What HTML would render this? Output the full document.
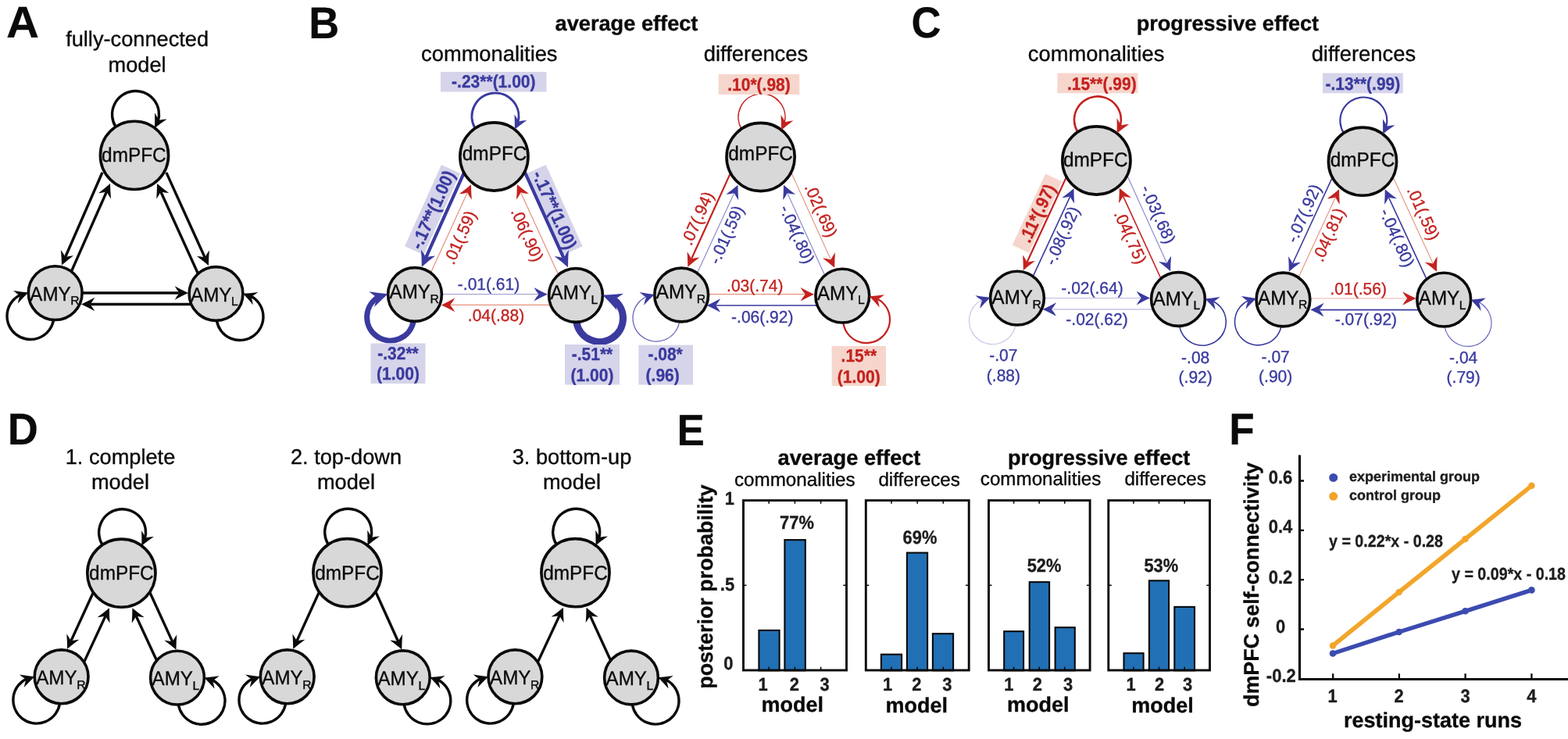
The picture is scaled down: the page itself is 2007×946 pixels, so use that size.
<!DOCTYPE html>
<html><head><meta charset="utf-8"><title>Figure</title>
<style>
html,body{margin:0;padding:0;background:#fff;}
svg{display:block;font-family:'Liberation Sans', sans-serif;}
text{stroke-width:.35px;stroke-linejoin:round;text-rendering:geometricPrecision;}
</style></head>
<body>
<svg width="2007" height="946" viewBox="0 0 2007 946">
<rect width="2007" height="946" fill="#fff"/>
<text font-size="100" font-weight="bold" fill="#0a0a0a" transform="matrix(0.5821 0 0 0.5669 7.99 47.90)" stroke="#0a0a0a">A</text>
<text x="175.6" y="58.5" font-size="27.2" text-anchor="middle" fill="#0a0a0a" stroke="#0a0a0a">fully-connected</text>
<text x="175.6" y="91.5" font-size="27.2" text-anchor="middle" fill="#0a0a0a" stroke="#0a0a0a">model</text>
<path d="M148.1 162.4A30 30 0 1 1 202.2 155.4" fill="none" stroke="#0a0a0a" stroke-width="3.4"/>
<path d="M68.6 409.4A30 30 0 1 1 27.1 377" fill="none" stroke="#0a0a0a" stroke-width="3.4"/>
<path d="M277.4 410.4A30 30 0 1 0 320 378.5" fill="none" stroke="#0a0a0a" stroke-width="3.4"/>
<line x1="131" y1="220.8" x2="83.5" y2="329.2" stroke="#0a0a0a" stroke-width="3.4"/>
<path d="M79 339.5Q86.1 333.2 94 327.2Q87.8 327.8 83.5 329.2Q81.7 325.1 77.9 320.1Q78.8 330 79 339.5Z" fill="#0a0a0a"/>
<line x1="88" y1="355.1" x2="136.5" y2="245.3" stroke="#0a0a0a" stroke-width="3.4"/>
<path d="M141 235Q133.9 241.3 126 247.3Q132.2 246.7 136.5 245.3Q138.3 249.4 142.1 254.4Q141.1 244.5 141 235Z" fill="#0a0a0a"/>
<line x1="256.1" y1="356.1" x2="205.7" y2="245.2" stroke="#0a0a0a" stroke-width="3.4"/>
<path d="M201 235Q201 244.5 200.2 254.4Q203.9 249.4 205.7 245.2Q210 246.6 216.2 247.1Q208.2 241.2 201 235Z" fill="#0a0a0a"/>
<line x1="212.9" y1="220.9" x2="262.3" y2="329.8" stroke="#0a0a0a" stroke-width="3.4"/>
<path d="M267 340Q267 330.5 267.9 320.6Q264.1 325.6 262.3 329.8Q258 328.4 251.8 327.9Q259.8 333.8 267 340Z" fill="#0a0a0a"/>
<line x1="97" y1="375" x2="229.8" y2="375" stroke="#0a0a0a" stroke-width="3.4"/>
<path d="M241 375Q232.3 371 223.7 366.2Q226.7 371.7 229.8 375Q226.7 378.3 223.7 383.8Q232.3 379 241 375Z" fill="#0a0a0a"/>
<line x1="251" y1="389.5" x2="115.2" y2="389.5" stroke="#0a0a0a" stroke-width="3.4"/>
<path d="M104 389.5Q112.7 393.5 121.3 398.3Q118.3 392.8 115.2 389.5Q118.3 386.2 121.3 380.7Q112.7 385.5 104 389.5Z" fill="#0a0a0a"/>
<circle cx="172" cy="198.9" r="43.6" fill="#d8d8d8" stroke="#0a0a0a" stroke-width="3.6"/>
<text x="171.4" y="207.2" font-size="25.5" text-anchor="middle" fill="#0a0a0a" textLength="82.6" lengthAdjust="spacingAndGlyphs" stroke="#0a0a0a">dmPFC</text>
<circle cx="70.7" cy="375.1" r="34.4" fill="#d8d8d8" stroke="#0a0a0a" stroke-width="3.6"/>
<text x="38.3" y="384.6" font-size="25.5" fill="#0a0a0a" textLength="52.4" lengthAdjust="spacingAndGlyphs" stroke="#0a0a0a">AMY</text>
<text x="90.3" y="390.3" font-size="15.7" fill="#0a0a0a" stroke="#0a0a0a">R</text>
<circle cx="276.5" cy="376" r="34.4" fill="#d8d8d8" stroke="#0a0a0a" stroke-width="3.6"/>
<text x="244.1" y="385.5" font-size="25.5" fill="#0a0a0a" textLength="52.4" lengthAdjust="spacingAndGlyphs" stroke="#0a0a0a">AMY</text>
<text x="296.1" y="391.2" font-size="15.7" fill="#0a0a0a" stroke="#0a0a0a">L</text>
<text font-size="100" font-weight="bold" fill="#0a0a0a" transform="matrix(0.5423 0 0 0.5712 9.72 568.70)" stroke="#0a0a0a">D</text>
<text x="154" y="594.3" font-size="27.2" text-anchor="middle" fill="#0a0a0a" stroke="#0a0a0a">1. complete</text>
<text x="154" y="626.4" font-size="27.2" text-anchor="middle" fill="#0a0a0a" stroke="#0a0a0a">model</text>
<path d="M131.1 697.5A30 30 0 1 1 185.4 690.1" fill="none" stroke="#0a0a0a" stroke-width="3.4"/>
<path d="M76.5 900.6A30 30 0 1 1 35 868.5" fill="none" stroke="#0a0a0a" stroke-width="3.4"/>
<path d="M228.4 902A30 30 0 1 0 270.5 869.9" fill="none" stroke="#0a0a0a" stroke-width="3.4"/>
<line x1="121.6" y1="753.6" x2="90.8" y2="820.6" stroke="#0a0a0a" stroke-width="3.4"/>
<path d="M86.1 830.8Q93.3 824.6 101.3 818.8Q95.1 819.2 90.8 820.6Q89 816.4 85.3 811.4Q86.1 821.3 86.1 830.8Z" fill="#0a0a0a"/>
<line x1="189.2" y1="752.6" x2="220.8" y2="821.6" stroke="#0a0a0a" stroke-width="3.4"/>
<path d="M225.5 831.8Q225.5 822.3 226.3 812.4Q222.6 817.4 220.8 821.6Q216.5 820.2 210.3 819.7Q218.3 825.6 225.5 831.8Z" fill="#0a0a0a"/>
<line x1="104.4" y1="854.4" x2="135.1" y2="788.4" stroke="#0a0a0a" stroke-width="3.4"/>
<path d="M139.9 778.2Q132.7 784.4 124.6 790.2Q130.8 789.7 135.1 788.4Q136.9 792.5 140.6 797.6Q139.8 787.7 139.9 778.2Z" fill="#0a0a0a"/>
<line x1="203.7" y1="852.2" x2="174.1" y2="788.4" stroke="#0a0a0a" stroke-width="3.4"/>
<path d="M169.4 778.2Q169.4 787.7 168.7 797.6Q172.4 792.6 174.1 788.4Q178.4 789.7 184.7 790.2Q176.6 784.4 169.4 778.2Z" fill="#0a0a0a"/>
<circle cx="155.4" cy="733.7" r="43.6" fill="#d8d8d8" stroke="#0a0a0a" stroke-width="3.6"/>
<text x="155.4" y="742" font-size="25.5" text-anchor="middle" fill="#0a0a0a" textLength="82.6" lengthAdjust="spacingAndGlyphs" stroke="#0a0a0a">dmPFC</text>
<circle cx="78.6" cy="866.3" r="34.4" fill="#d8d8d8" stroke="#0a0a0a" stroke-width="3.6"/>
<text x="46.2" y="875.8" font-size="25.5" fill="#0a0a0a" textLength="52.4" lengthAdjust="spacingAndGlyphs" stroke="#0a0a0a">AMY</text>
<text x="98.2" y="881.5" font-size="15.7" fill="#0a0a0a" stroke="#0a0a0a">R</text>
<circle cx="227" cy="867.6" r="34.4" fill="#d8d8d8" stroke="#0a0a0a" stroke-width="3.6"/>
<text x="194.6" y="877.1" font-size="25.5" fill="#0a0a0a" textLength="52.4" lengthAdjust="spacingAndGlyphs" stroke="#0a0a0a">AMY</text>
<text x="246.6" y="882.8" font-size="15.7" fill="#0a0a0a" stroke="#0a0a0a">L</text>
<text x="443" y="594.3" font-size="27.2" text-anchor="middle" fill="#0a0a0a" stroke="#0a0a0a">2. top-down</text>
<text x="443" y="626.4" font-size="27.2" text-anchor="middle" fill="#0a0a0a" stroke="#0a0a0a">model</text>
<path d="M420.2 697A30 30 0 1 1 474.5 689.6" fill="none" stroke="#0a0a0a" stroke-width="3.4"/>
<path d="M365.6 900.6A30 30 0 1 1 324.1 868.5" fill="none" stroke="#0a0a0a" stroke-width="3.4"/>
<path d="M517.2 901.7A30 30 0 1 0 559.3 869.6" fill="none" stroke="#0a0a0a" stroke-width="3.4"/>
<line x1="410.7" y1="753.1" x2="379.9" y2="820.6" stroke="#0a0a0a" stroke-width="3.4"/>
<path d="M375.2 830.8Q382.4 824.6 390.4 818.7Q384.2 819.2 379.9 820.6Q378.1 816.4 374.4 811.4Q375.2 821.3 375.2 830.8Z" fill="#0a0a0a"/>
<line x1="478.4" y1="752.1" x2="509.7" y2="821.3" stroke="#0a0a0a" stroke-width="3.4"/>
<path d="M514.3 831.5Q514.3 822 515.2 812.1Q511.5 817.1 509.7 821.3Q505.4 819.9 499.2 819.4Q507.1 825.3 514.3 831.5Z" fill="#0a0a0a"/>
<circle cx="444.5" cy="733.2" r="43.6" fill="#d8d8d8" stroke="#0a0a0a" stroke-width="3.6"/>
<text x="444.5" y="741.5" font-size="25.5" text-anchor="middle" fill="#0a0a0a" textLength="82.6" lengthAdjust="spacingAndGlyphs" stroke="#0a0a0a">dmPFC</text>
<circle cx="367.7" cy="866.3" r="34.4" fill="#d8d8d8" stroke="#0a0a0a" stroke-width="3.6"/>
<text x="335.3" y="875.8" font-size="25.5" fill="#0a0a0a" textLength="52.4" lengthAdjust="spacingAndGlyphs" stroke="#0a0a0a">AMY</text>
<text x="387.3" y="881.5" font-size="15.7" fill="#0a0a0a" stroke="#0a0a0a">R</text>
<circle cx="515.8" cy="867.3" r="34.4" fill="#d8d8d8" stroke="#0a0a0a" stroke-width="3.6"/>
<text x="483.4" y="876.8" font-size="25.5" fill="#0a0a0a" textLength="52.4" lengthAdjust="spacingAndGlyphs" stroke="#0a0a0a">AMY</text>
<text x="535.4" y="882.5" font-size="15.7" fill="#0a0a0a" stroke="#0a0a0a">L</text>
<text x="732" y="594.3" font-size="27.2" text-anchor="middle" fill="#0a0a0a" stroke="#0a0a0a">3. bottom-up</text>
<text x="732" y="626.4" font-size="27.2" text-anchor="middle" fill="#0a0a0a" stroke="#0a0a0a">model</text>
<path d="M712.2 697A30 30 0 1 1 766.5 689.6" fill="none" stroke="#0a0a0a" stroke-width="3.4"/>
<path d="M657.3 900.6A30 30 0 1 1 615.8 868.5" fill="none" stroke="#0a0a0a" stroke-width="3.4"/>
<path d="M809.4 901.9A30 30 0 1 0 851.5 869.8" fill="none" stroke="#0a0a0a" stroke-width="3.4"/>
<line x1="685.2" y1="854.4" x2="716.2" y2="787.9" stroke="#0a0a0a" stroke-width="3.4"/>
<path d="M721 777.7Q713.7 783.9 705.7 789.6Q711.9 789.2 716.2 787.9Q718 792 721.6 797.1Q720.9 787.2 721 777.7Z" fill="#0a0a0a"/>
<line x1="784.7" y1="852.1" x2="755.2" y2="787.9" stroke="#0a0a0a" stroke-width="3.4"/>
<path d="M750.5 777.7Q750.5 787.2 749.7 797.1Q753.4 792.1 755.2 787.9Q759.5 789.3 765.7 789.7Q757.7 783.9 750.5 777.7Z" fill="#0a0a0a"/>
<circle cx="736.5" cy="733.2" r="43.6" fill="#d8d8d8" stroke="#0a0a0a" stroke-width="3.6"/>
<text x="736.5" y="741.5" font-size="25.5" text-anchor="middle" fill="#0a0a0a" textLength="82.6" lengthAdjust="spacingAndGlyphs" stroke="#0a0a0a">dmPFC</text>
<circle cx="659.4" cy="866.3" r="34.4" fill="#d8d8d8" stroke="#0a0a0a" stroke-width="3.6"/>
<text x="627" y="875.8" font-size="25.5" fill="#0a0a0a" textLength="52.4" lengthAdjust="spacingAndGlyphs" stroke="#0a0a0a">AMY</text>
<text x="679" y="881.5" font-size="15.7" fill="#0a0a0a" stroke="#0a0a0a">R</text>
<circle cx="808" cy="867.5" r="34.4" fill="#d8d8d8" stroke="#0a0a0a" stroke-width="3.6"/>
<text x="775.6" y="877" font-size="25.5" fill="#0a0a0a" textLength="52.4" lengthAdjust="spacingAndGlyphs" stroke="#0a0a0a">AMY</text>
<text x="827.6" y="882.7" font-size="15.7" fill="#0a0a0a" stroke="#0a0a0a">L</text>
<text font-size="100" font-weight="bold" fill="#0a0a0a" transform="matrix(0.5410 0 0 0.5698 395.13 49.00)" stroke="#0a0a0a">B</text>
<text font-size="100" font-weight="bold" fill="#0a0a0a" transform="matrix(0.5261 0 0 0.5572 1166.49 47.64)" stroke="#0a0a0a">C</text>
<text x="802" y="39.2" font-size="27.2" font-weight="bold" text-anchor="middle" fill="#0a0a0a" stroke="#0a0a0a">average effect</text>
<text x="1571.4" y="39.2" font-size="27.1" font-weight="bold" text-anchor="middle" fill="#0a0a0a" stroke="#0a0a0a">progressive effect</text>
<text x="626.3" y="78.1" font-size="27.3" text-anchor="middle" fill="#0a0a0a" stroke="#0a0a0a">commonalities</text>
<text x="967.5" y="78" font-size="27.4" text-anchor="middle" fill="#0a0a0a" stroke="#0a0a0a">differences</text>
<text x="1403.1" y="78.1" font-size="27.3" text-anchor="middle" fill="#0a0a0a" stroke="#0a0a0a">commonalities</text>
<text x="1745.4" y="78" font-size="27.4" text-anchor="middle" fill="#0a0a0a" stroke="#0a0a0a">differences</text>
<path d="M608.2 164.3A30 30 0 1 1 662.8 157.2" fill="none" stroke="#3a3a9f" stroke-width="3.0"/>
<path d="M529.2 411.4A30 30 0 1 1 485.1 379.8" fill="none" stroke="#3a3a9f" stroke-width="7"/>
<path d="M737.9 412.4A30 30 0 1 0 783.7 382.2" fill="none" stroke="#3a3a9f" stroke-width="9"/>
<rect x="564" y="92" width="135.5" height="25.5" fill="#d5d4ea"/>
<text x="631.8" y="112" font-size="22.8" font-weight="bold" text-anchor="middle" fill="#3a3a9f" textLength="107.4" lengthAdjust="spacingAndGlyphs" stroke="#3a3a9f">-.23**(1.00)</text>
<rect x="474.5" y="439.5" width="70" height="51.5" fill="#d5d4ea"/>
<text x="509.5" y="460" font-size="22.8" font-weight="bold" text-anchor="middle" fill="#3a3a9f" textLength="52.5" lengthAdjust="spacingAndGlyphs" stroke="#3a3a9f">-.32**</text>
<text x="509.5" y="485.5" font-size="22.8" font-weight="bold" text-anchor="middle" fill="#3a3a9f" textLength="54.9" lengthAdjust="spacingAndGlyphs" stroke="#3a3a9f">(1.00)</text>
<rect x="723" y="441" width="70" height="51.5" fill="#d5d4ea"/>
<text x="758" y="461" font-size="22.8" font-weight="bold" text-anchor="middle" fill="#3a3a9f" textLength="52.5" lengthAdjust="spacingAndGlyphs" stroke="#3a3a9f">-.51**</text>
<text x="758" y="487.5" font-size="22.8" font-weight="bold" text-anchor="middle" fill="#3a3a9f" textLength="54.9" lengthAdjust="spacingAndGlyphs" stroke="#3a3a9f">(1.00)</text>
<rect x="-57.1" y="-13.3" width="114.3" height="26.6" fill="#d5d4ea" transform="translate(553.6 268.6) rotate(-65.8)"/>
<text x="0" y="8" font-size="22.8" font-weight="bold" text-anchor="middle" fill="#3a3a9f" textLength="107.4" lengthAdjust="spacingAndGlyphs" transform="translate(553.6 268.6) rotate(-65.8)" stroke="#3a3a9f">-.17**(1.00)</text>
<text x="0" y="7.5" font-size="21.5" text-anchor="middle" fill="#c4221f" textLength="72.4" lengthAdjust="spacingAndGlyphs" transform="translate(588.5 303.8) rotate(-66)" stroke="#c4221f">.01(.59)</text>
<text x="0" y="7.5" font-size="21.5" text-anchor="middle" fill="#c4221f" textLength="72.4" lengthAdjust="spacingAndGlyphs" transform="translate(675 300.5) rotate(66)" stroke="#c4221f">.06(.90)</text>
<rect x="-57.1" y="-13.3" width="114.3" height="26.6" fill="#d5d4ea" transform="translate(710 268.6) rotate(65.8)"/>
<text x="0" y="8" font-size="22.8" font-weight="bold" text-anchor="middle" fill="#3a3a9f" textLength="107.4" lengthAdjust="spacingAndGlyphs" transform="translate(710 268.6) rotate(65.8)" stroke="#3a3a9f">-.17**(1.00)</text>
<line x1="596.3" y1="215.9" x2="545.1" y2="329.8" stroke="#3a3a9f" stroke-width="4.2"/>
<path d="M539.8 341.7Q548 334.4 557.1 327.6Q550 328.2 545.1 329.8Q543.1 325.1 538.9 319.4Q539.8 330.7 539.8 341.7Z" fill="#3a3a9f"/>
<line x1="548.1" y1="356.3" x2="598.3" y2="246.4" stroke="#e4927c" stroke-width="1.2"/>
<path d="M603 236.2Q595.8 242.4 587.8 248.3Q594 247.8 598.3 246.4Q600.1 250.6 603.8 255.6Q603 245.7 603 236.2Z" fill="#c4221f"/>
<line x1="717.4" y1="357.6" x2="666.5" y2="246.2" stroke="#e4927c" stroke-width="1.2"/>
<path d="M661.8 236Q661.8 245.5 661 255.4Q664.7 250.4 666.5 246.2Q670.8 247.6 677 248.1Q669 242.2 661.8 236Z" fill="#c4221f"/>
<line x1="669.2" y1="214.6" x2="721.6" y2="330.4" stroke="#3a3a9f" stroke-width="4.2"/>
<path d="M727 342.2Q727 331.2 727.9 319.9Q723.7 325.6 721.6 330.4Q716.7 328.7 709.6 328.1Q718.8 334.9 727 342.2Z" fill="#3a3a9f"/>
<line x1="557" y1="376.7" x2="689.6" y2="376.7" stroke="#a6a6d6" stroke-width="1.3"/>
<path d="M700.8 376.7Q692.1 372.7 683.5 367.9Q686.5 373.4 689.6 376.7Q686.5 380 683.5 385.5Q692.1 380.7 700.8 376.7Z" fill="#3a3a9f"/>
<line x1="711" y1="390.4" x2="576.2" y2="390.4" stroke="#e4927c" stroke-width="1.3"/>
<path d="M565 390.4Q573.6 394.4 582.3 399.2Q579.3 393.7 576.2 390.4Q579.3 387.1 582.3 381.6Q573.6 386.4 565 390.4Z" fill="#c4221f"/>
<text x="625.5" y="371" font-size="21.5" text-anchor="middle" fill="#3a3a9f" textLength="79.4" lengthAdjust="spacingAndGlyphs" stroke="#3a3a9f">-.01(.61)</text>
<text x="635" y="410.5" font-size="21.5" text-anchor="middle" fill="#c4221f" textLength="72.4" lengthAdjust="spacingAndGlyphs" stroke="#c4221f">.04(.88)</text>
<circle cx="632.4" cy="200.5" r="43.6" fill="#d8d8d8" stroke="#0a0a0a" stroke-width="3.6"/>
<text x="633.1" y="205" font-size="25.5" text-anchor="middle" fill="#0a0a0a" textLength="82.6" lengthAdjust="spacingAndGlyphs" stroke="#0a0a0a">dmPFC</text>
<circle cx="531" cy="377" r="34.4" fill="#d8d8d8" stroke="#0a0a0a" stroke-width="3.6"/>
<text x="498.6" y="382.1" font-size="25.5" fill="#0a0a0a" textLength="52.4" lengthAdjust="spacingAndGlyphs" stroke="#0a0a0a">AMY</text>
<text x="550.6" y="387.8" font-size="15.7" fill="#0a0a0a" stroke="#0a0a0a">R</text>
<circle cx="737" cy="378" r="34.4" fill="#d8d8d8" stroke="#0a0a0a" stroke-width="3.6"/>
<text x="704.6" y="383.1" font-size="25.5" fill="#0a0a0a" textLength="52.4" lengthAdjust="spacingAndGlyphs" stroke="#0a0a0a">AMY</text>
<text x="756.6" y="388.8" font-size="15.7" fill="#0a0a0a" stroke="#0a0a0a">L</text>
<path d="M949 165A30 30 0 1 1 1004 157.7" fill="none" stroke="#c4221f" stroke-width="1.6"/>
<path d="M869.6 411.8A30 30 0 1 1 828.6 379.3" fill="none" stroke="#5c5cb6" stroke-width="1.2"/>
<path d="M1079.3 413A30 30 0 1 0 1121.8 381.9" fill="none" stroke="#c4221f" stroke-width="2.2"/>
<rect x="919.7" y="95" width="103.6" height="26" fill="#f6d6cc"/>
<text x="971.5" y="116" font-size="22.8" font-weight="bold" text-anchor="middle" fill="#c4221f" textLength="80.5" lengthAdjust="spacingAndGlyphs" stroke="#c4221f">.10*(.98)</text>
<rect x="817.4" y="441.7" width="69.6" height="50.8" fill="#d5d4ea"/>
<text x="851.6" y="461.3" font-size="22.8" font-weight="bold" text-anchor="middle" fill="#3a3a9f" textLength="44.4" lengthAdjust="spacingAndGlyphs" stroke="#3a3a9f">-.08*</text>
<text x="848.2" y="488" font-size="22.8" font-weight="bold" text-anchor="middle" fill="#3a3a9f" textLength="43.2" lengthAdjust="spacingAndGlyphs" stroke="#3a3a9f">(.96)</text>
<rect x="1064.6" y="443" width="69.4" height="51" fill="#f6d6cc"/>
<text x="1099.3" y="463" font-size="22.8" font-weight="bold" text-anchor="middle" fill="#c4221f" textLength="45.5" lengthAdjust="spacingAndGlyphs" stroke="#c4221f">.15**</text>
<text x="1099.3" y="489.5" font-size="22.8" font-weight="bold" text-anchor="middle" fill="#c4221f" textLength="54.9" lengthAdjust="spacingAndGlyphs" stroke="#c4221f">(1.00)</text>
<text x="0" y="7.5" font-size="21.5" text-anchor="middle" fill="#c4221f" textLength="72.4" lengthAdjust="spacingAndGlyphs" transform="translate(892.5 279.3) rotate(-66)" stroke="#c4221f">.07(.94)</text>
<text x="0" y="7.5" font-size="21.5" text-anchor="middle" fill="#3a3a9f" textLength="79.4" lengthAdjust="spacingAndGlyphs" transform="translate(929.5 300.5) rotate(-66)" stroke="#3a3a9f">-.01(.59)</text>
<text x="0" y="7.5" font-size="21.5" text-anchor="middle" fill="#3a3a9f" textLength="79.4" lengthAdjust="spacingAndGlyphs" transform="translate(1020.3 299.8) rotate(66)" stroke="#3a3a9f">-.04(.80)</text>
<text x="0" y="7.5" font-size="21.5" text-anchor="middle" fill="#c4221f" textLength="72.4" lengthAdjust="spacingAndGlyphs" transform="translate(1051 269.3) rotate(66)" stroke="#c4221f">.02(.69)</text>
<line x1="937.6" y1="215.9" x2="885" y2="331.5" stroke="#c4221f" stroke-width="2.2"/>
<path d="M880.3 341.7Q887.5 335.5 895.5 329.6Q889.3 330.1 885 331.5Q883.2 327.3 879.5 322.3Q880.3 332.2 880.3 341.7Z" fill="#c4221f"/>
<line x1="889.3" y1="356.3" x2="939.8" y2="247" stroke="#8484cc" stroke-width="1.1"/>
<path d="M944.5 236.8Q937.3 243 929.3 248.8Q935.5 248.4 939.8 247Q941.6 251.2 945.2 256.2Q944.5 246.3 944.5 236.8Z" fill="#3a3a9f"/>
<line x1="1058.6" y1="358.8" x2="1007.7" y2="246.9" stroke="#8484cc" stroke-width="1.1"/>
<path d="M1003 236.7Q1003 246.2 1002.2 256.1Q1005.9 251.1 1007.7 246.9Q1012 248.3 1018.2 248.8Q1010.2 242.9 1003 236.7Z" fill="#3a3a9f"/>
<line x1="1010.5" y1="215.9" x2="1063.5" y2="332.5" stroke="#e4927c" stroke-width="1.1"/>
<path d="M1068.2 342.7Q1068.2 333.2 1069 323.3Q1065.3 328.3 1063.5 332.5Q1059.2 331.1 1053 330.6Q1061 336.5 1068.2 342.7Z" fill="#c4221f"/>
<line x1="898" y1="376.7" x2="1030.8" y2="376.7" stroke="#e4927c" stroke-width="1.2"/>
<path d="M1042 376.7Q1033.3 372.7 1024.7 367.9Q1027.7 373.4 1030.8 376.7Q1027.7 380 1024.7 385.5Q1033.3 380.7 1042 376.7Z" fill="#c4221f"/>
<line x1="1052" y1="391" x2="916" y2="391" stroke="#3a3a9f" stroke-width="1.6"/>
<path d="M904.8 391Q913.4 395 922.1 399.8Q919.1 394.3 916 391Q919.1 387.7 922.1 382.2Q913.4 387 904.8 391Z" fill="#3a3a9f"/>
<text x="966.3" y="372.5" font-size="21.5" text-anchor="middle" fill="#c4221f" textLength="72.4" lengthAdjust="spacingAndGlyphs" stroke="#c4221f">.03(.74)</text>
<text x="975.8" y="413.4" font-size="21.5" text-anchor="middle" fill="#3a3a9f" textLength="79.4" lengthAdjust="spacingAndGlyphs" stroke="#3a3a9f">-.06(.92)</text>
<circle cx="973.6" cy="201" r="43.6" fill="#d8d8d8" stroke="#0a0a0a" stroke-width="3.6"/>
<text x="973.6" y="205" font-size="25.5" text-anchor="middle" fill="#0a0a0a" textLength="82.6" lengthAdjust="spacingAndGlyphs" stroke="#0a0a0a">dmPFC</text>
<circle cx="872.2" cy="377.5" r="34.4" fill="#d8d8d8" stroke="#0a0a0a" stroke-width="3.6"/>
<text x="839.8" y="382.4" font-size="25.5" fill="#0a0a0a" textLength="52.4" lengthAdjust="spacingAndGlyphs" stroke="#0a0a0a">AMY</text>
<text x="891.8" y="388.1" font-size="15.7" fill="#0a0a0a" stroke="#0a0a0a">R</text>
<circle cx="1078.3" cy="378.6" r="34.4" fill="#d8d8d8" stroke="#0a0a0a" stroke-width="3.6"/>
<text x="1045.9" y="383.5" font-size="25.5" fill="#0a0a0a" textLength="52.4" lengthAdjust="spacingAndGlyphs" stroke="#0a0a0a">AMY</text>
<text x="1097.9" y="389.2" font-size="15.7" fill="#0a0a0a" stroke="#0a0a0a">L</text>
<path d="M1379.4 169.1A30 30 0 1 1 1433.7 162.1" fill="none" stroke="#c4221f" stroke-width="2.6"/>
<path d="M1300 415.9A30 30 0 1 1 1258.4 383.2" fill="none" stroke="#c4c4e4" stroke-width="1.1"/>
<path d="M1509.7 417.4A30 30 0 1 0 1551.5 384.9" fill="none" stroke="#3a3a9f" stroke-width="1.6"/>
<rect x="1353.4" y="93.6" width="103" height="25.7" fill="#f6d6cc"/>
<text x="1410.3" y="114.8" font-size="22.8" font-weight="bold" text-anchor="middle" fill="#c4221f" textLength="88.7" lengthAdjust="spacingAndGlyphs" stroke="#c4221f">.15**(.99)</text>
<text x="1284.4" y="461.5" font-size="21.5" text-anchor="middle" fill="#3a3a9f" textLength="36.2" lengthAdjust="spacingAndGlyphs" stroke="#3a3a9f">-.07</text>
<text x="1284.4" y="488" font-size="21.5" text-anchor="middle" fill="#3a3a9f" textLength="43.2" lengthAdjust="spacingAndGlyphs" stroke="#3a3a9f">(.88)</text>
<text x="1530.2" y="464.7" font-size="21.5" text-anchor="middle" fill="#3a3a9f" textLength="36.2" lengthAdjust="spacingAndGlyphs" stroke="#3a3a9f">-.08</text>
<text x="1530.2" y="489.7" font-size="21.5" text-anchor="middle" fill="#3a3a9f" textLength="43.2" lengthAdjust="spacingAndGlyphs" stroke="#3a3a9f">(.92)</text>
<rect x="-50.4" y="-11.7" width="100.7" height="23.3" fill="#f6d6cc" transform="translate(1327.6 273) rotate(-65)"/>
<text x="0" y="8" font-size="22.8" font-weight="bold" text-anchor="middle" fill="#c4221f" textLength="79.4" lengthAdjust="spacingAndGlyphs" transform="translate(1327.6 273) rotate(-65)" stroke="#c4221f">.11*(.97)</text>
<text x="0" y="7.5" font-size="21.5" text-anchor="middle" fill="#3a3a9f" textLength="79.4" lengthAdjust="spacingAndGlyphs" transform="translate(1359.4 301.7) rotate(-66)" stroke="#3a3a9f">-.08(.92)</text>
<text x="0" y="7.5" font-size="21.5" text-anchor="middle" fill="#c4221f" textLength="72.4" lengthAdjust="spacingAndGlyphs" transform="translate(1447 303.4) rotate(66)" stroke="#c4221f">.04(.75)</text>
<text x="0" y="7.5" font-size="21.5" text-anchor="middle" fill="#3a3a9f" textLength="79.4" lengthAdjust="spacingAndGlyphs" transform="translate(1482.6 274.3) rotate(66)" stroke="#3a3a9f">-.03(.68)</text>
<line x1="1367.6" y1="220.9" x2="1314.5" y2="335.8" stroke="#c4221f" stroke-width="2.2"/>
<path d="M1309.8 346Q1317 339.8 1325 334Q1318.8 334.4 1314.5 335.8Q1312.8 331.6 1309.1 326.6Q1309.8 336.5 1309.8 346Z" fill="#c4221f"/>
<line x1="1319.3" y1="360.1" x2="1369.8" y2="251.4" stroke="#3a3a9f" stroke-width="1.6"/>
<path d="M1374.5 241.2Q1367.3 247.4 1359.2 253.2Q1365.5 252.7 1369.8 251.4Q1371.5 255.6 1375.2 260.6Q1374.4 250.7 1374.5 241.2Z" fill="#3a3a9f"/>
<line x1="1488.7" y1="362.5" x2="1437.5" y2="251" stroke="#c4221f" stroke-width="1.6"/>
<path d="M1432.8 240.8Q1432.8 250.3 1432 260.2Q1435.7 255.2 1437.5 251Q1441.8 252.4 1448 252.9Q1440 247 1432.8 240.8Z" fill="#c4221f"/>
<line x1="1439.9" y1="218.3" x2="1493.6" y2="337" stroke="#8484cc" stroke-width="1.1"/>
<path d="M1498.2 347.2Q1498.2 337.7 1499.1 327.8Q1495.4 332.8 1493.6 337Q1489.3 335.6 1483.1 335.1Q1491 341 1498.2 347.2Z" fill="#3a3a9f"/>
<line x1="1328" y1="381.6" x2="1460.8" y2="381.6" stroke="#c4c4e4" stroke-width="1.1"/>
<path d="M1472 381.6Q1463.3 377.6 1454.7 372.8Q1457.7 378.3 1460.8 381.6Q1457.7 384.9 1454.7 390.4Q1463.3 385.6 1472 381.6Z" fill="#3a3a9f"/>
<line x1="1482" y1="396" x2="1345.9" y2="396" stroke="#a6a6d6" stroke-width="1.1"/>
<path d="M1334.7 396Q1343.4 400 1352 404.8Q1349 399.3 1345.9 396Q1349 392.7 1352 387.2Q1343.4 392 1334.7 396Z" fill="#3a3a9f"/>
<text x="1398" y="376" font-size="21.5" text-anchor="middle" fill="#3a3a9f" textLength="79.4" lengthAdjust="spacingAndGlyphs" stroke="#3a3a9f">-.02(.64)</text>
<text x="1404" y="416" font-size="21.5" text-anchor="middle" fill="#3a3a9f" textLength="79.4" lengthAdjust="spacingAndGlyphs" stroke="#3a3a9f">-.02(.62)</text>
<circle cx="1403.4" cy="205.5" r="43.6" fill="#d8d8d8" stroke="#0a0a0a" stroke-width="3.6"/>
<text x="1402.2" y="212.6" font-size="25.5" text-anchor="middle" fill="#0a0a0a" textLength="82.6" lengthAdjust="spacingAndGlyphs" stroke="#0a0a0a">dmPFC</text>
<circle cx="1302" cy="381.6" r="34.4" fill="#d8d8d8" stroke="#0a0a0a" stroke-width="3.6"/>
<text x="1269.6" y="389.2" font-size="25.5" fill="#0a0a0a" textLength="52.4" lengthAdjust="spacingAndGlyphs" stroke="#0a0a0a">AMY</text>
<text x="1321.6" y="394.9" font-size="15.7" fill="#0a0a0a" stroke="#0a0a0a">R</text>
<circle cx="1508" cy="383" r="34.4" fill="#d8d8d8" stroke="#0a0a0a" stroke-width="3.6"/>
<text x="1475.6" y="390.6" font-size="25.5" fill="#0a0a0a" textLength="52.4" lengthAdjust="spacingAndGlyphs" stroke="#0a0a0a">AMY</text>
<text x="1527.6" y="396.3" font-size="15.7" fill="#0a0a0a" stroke="#0a0a0a">L</text>
<path d="M1719.9 170.3A30 30 0 1 1 1774.1 163.2" fill="none" stroke="#3a3a9f" stroke-width="2.2"/>
<path d="M1639.9 417.8A30 30 0 1 1 1598.8 384.2" fill="none" stroke="#3a3a9f" stroke-width="1.6"/>
<path d="M1849.3 418A30 30 0 1 0 1891.7 386.3" fill="none" stroke="#6a6abf" stroke-width="1.2"/>
<rect x="1693" y="93.6" width="102.8" height="25.7" fill="#d5d4ea"/>
<text x="1744.4" y="114.8" font-size="22.8" font-weight="bold" text-anchor="middle" fill="#3a3a9f" textLength="95.7" lengthAdjust="spacingAndGlyphs" stroke="#3a3a9f">-.13**(.99)</text>
<text x="1632.7" y="464" font-size="21.5" text-anchor="middle" fill="#3a3a9f" textLength="36.2" lengthAdjust="spacingAndGlyphs" stroke="#3a3a9f">-.07</text>
<text x="1632.7" y="489.2" font-size="21.5" text-anchor="middle" fill="#3a3a9f" textLength="43.2" lengthAdjust="spacingAndGlyphs" stroke="#3a3a9f">(.90)</text>
<text x="1873.2" y="464.8" font-size="21.5" text-anchor="middle" fill="#3a3a9f" textLength="36.2" lengthAdjust="spacingAndGlyphs" stroke="#3a3a9f">-.04</text>
<text x="1873.2" y="489.7" font-size="21.5" text-anchor="middle" fill="#3a3a9f" textLength="43.2" lengthAdjust="spacingAndGlyphs" stroke="#3a3a9f">(.79)</text>
<text x="0" y="7.5" font-size="21.5" text-anchor="middle" fill="#3a3a9f" textLength="79.4" lengthAdjust="spacingAndGlyphs" transform="translate(1668.5 273) rotate(-66)" stroke="#3a3a9f">-.07(.92)</text>
<text x="0" y="7.5" font-size="21.5" text-anchor="middle" fill="#c4221f" textLength="72.4" lengthAdjust="spacingAndGlyphs" transform="translate(1700.5 300.5) rotate(-66)" stroke="#c4221f">.04(.81)</text>
<text x="0" y="7.5" font-size="21.5" text-anchor="middle" fill="#3a3a9f" textLength="79.4" lengthAdjust="spacingAndGlyphs" transform="translate(1788.4 304.3) rotate(66)" stroke="#3a3a9f">-.04(.80)</text>
<text x="0" y="7.5" font-size="21.5" text-anchor="middle" fill="#c4221f" textLength="72.4" lengthAdjust="spacingAndGlyphs" transform="translate(1822 273) rotate(66)" stroke="#c4221f">.01(.59)</text>
<line x1="1707.7" y1="222.1" x2="1654.5" y2="337.5" stroke="#3a3a9f" stroke-width="1.6"/>
<path d="M1649.8 347.7Q1657 341.5 1665 335.7Q1658.8 336.1 1654.5 337.5Q1652.7 333.3 1649.1 328.3Q1649.8 338.2 1649.8 347.7Z" fill="#3a3a9f"/>
<line x1="1658.6" y1="362.5" x2="1709.4" y2="252.5" stroke="#e4927c" stroke-width="1.1"/>
<path d="M1714.1 242.3Q1706.9 248.5 1698.9 254.3Q1705.1 253.9 1709.4 252.5Q1711.2 256.7 1714.8 261.7Q1714.1 251.8 1714.1 242.3Z" fill="#c4221f"/>
<line x1="1828.7" y1="363.1" x2="1777.4" y2="252.5" stroke="#3a3a9f" stroke-width="1.6"/>
<path d="M1772.7 242.3Q1772.7 251.8 1772 261.7Q1775.7 256.7 1777.4 252.5Q1781.7 253.8 1788 254.3Q1779.9 248.5 1772.7 242.3Z" fill="#3a3a9f"/>
<line x1="1780.4" y1="220.9" x2="1834.3" y2="337.5" stroke="#e4927c" stroke-width="1.1"/>
<path d="M1839 347.7Q1839 338.2 1839.7 328.3Q1836 333.3 1834.3 337.5Q1830 336.1 1823.8 335.7Q1831.8 341.5 1839 347.7Z" fill="#c4221f"/>
<line x1="1668.5" y1="382" x2="1801.3" y2="382" stroke="#f0b4a8" stroke-width="1.1"/>
<path d="M1812.5 382Q1803.8 378 1795.2 373.2Q1798.2 378.7 1801.3 382Q1798.2 385.3 1795.2 390.8Q1803.8 386 1812.5 382Z" fill="#c4221f"/>
<line x1="1822.5" y1="396.6" x2="1688.5" y2="396.6" stroke="#3a3a9f" stroke-width="1.7"/>
<path d="M1677.3 396.6Q1686 400.6 1694.6 405.4Q1691.6 399.9 1688.5 396.6Q1691.6 393.3 1694.6 387.8Q1686 392.6 1677.3 396.6Z" fill="#3a3a9f"/>
<text x="1738.7" y="377" font-size="21.5" text-anchor="middle" fill="#c4221f" textLength="72.4" lengthAdjust="spacingAndGlyphs" stroke="#c4221f">.01(.56)</text>
<text x="1748.4" y="416" font-size="21.5" text-anchor="middle" fill="#3a3a9f" textLength="79.4" lengthAdjust="spacingAndGlyphs" stroke="#3a3a9f">-.07(.92)</text>
<circle cx="1744" cy="206.7" r="43.6" fill="#d8d8d8" stroke="#0a0a0a" stroke-width="3.6"/>
<text x="1744" y="212.5" font-size="25.5" text-anchor="middle" fill="#0a0a0a" textLength="82.6" lengthAdjust="spacingAndGlyphs" stroke="#0a0a0a">dmPFC</text>
<circle cx="1642.4" cy="383.5" r="34.4" fill="#d8d8d8" stroke="#0a0a0a" stroke-width="3.6"/>
<text x="1610" y="389.7" font-size="25.5" fill="#0a0a0a" textLength="52.4" lengthAdjust="spacingAndGlyphs" stroke="#0a0a0a">AMY</text>
<text x="1662" y="395.4" font-size="15.7" fill="#0a0a0a" stroke="#0a0a0a">R</text>
<circle cx="1848.2" cy="383.6" r="34.4" fill="#d8d8d8" stroke="#0a0a0a" stroke-width="3.6"/>
<text x="1815.8" y="389.8" font-size="25.5" fill="#0a0a0a" textLength="52.4" lengthAdjust="spacingAndGlyphs" stroke="#0a0a0a">AMY</text>
<text x="1867.8" y="395.5" font-size="15.7" fill="#0a0a0a" stroke="#0a0a0a">L</text>
<path d="M198 163.9Q205.4 158 213.7 152.5Q207.4 152.7 203.1 153.9Q201.5 149.6 198 144.5Q198.4 154.4 198 163.9Z" fill="#0a0a0a"/>
<path d="M36.3 374.6Q26.8 373.7 17.1 371.9Q21.7 376.1 25.7 378.3Q23.9 382.4 22.8 388.6Q29.4 381.2 36.3 374.6Z" fill="#0a0a0a"/>
<path d="M310.9 375.8Q317.5 382.6 323.8 390.2Q323 384.1 321.4 379.8Q325.4 377.8 330.2 373.9Q320.4 375.2 310.9 375.8Z" fill="#0a0a0a"/>
<path d="M181.3 698.7Q188.7 692.6 196.9 687Q190.6 687.3 186.3 688.6Q184.6 684.4 181.1 679.3Q181.6 689.2 181.3 698.7Z" fill="#0a0a0a"/>
<path d="M44.2 866.2Q34.7 865.3 25 863.5Q29.6 867.7 33.6 869.8Q31.8 874 30.7 880.1Q37.3 872.8 44.2 866.2Z" fill="#0a0a0a"/>
<path d="M261.4 867.4Q268.1 874.1 274.6 881.7Q273.6 875.5 271.9 871.3Q275.9 869.2 280.7 865.2Q270.9 866.7 261.4 867.4Z" fill="#0a0a0a"/>
<path d="M470.4 698.2Q477.8 692.1 486 686.5Q479.7 686.8 475.4 688.1Q473.7 683.9 470.2 678.8Q470.7 688.7 470.4 698.2Z" fill="#0a0a0a"/>
<path d="M333.3 866.2Q323.8 865.3 314.1 863.5Q318.7 867.7 322.7 869.8Q320.9 874 319.8 880.1Q326.4 872.8 333.3 866.2Z" fill="#0a0a0a"/>
<path d="M550.2 867.1Q556.9 873.8 563.4 881.4Q562.4 875.2 560.7 871Q564.7 868.9 569.5 864.9Q559.7 866.4 550.2 867.1Z" fill="#0a0a0a"/>
<path d="M762.4 698.2Q769.8 692.1 778 686.5Q771.7 686.8 767.4 688.1Q765.7 683.9 762.2 678.8Q762.7 688.7 762.4 698.2Z" fill="#0a0a0a"/>
<path d="M625 866.2Q615.5 865.3 605.8 863.5Q610.4 867.7 614.4 869.8Q612.6 874 611.5 880.1Q618.1 872.8 625 866.2Z" fill="#0a0a0a"/>
<path d="M842.4 867.3Q849.1 874 855.6 881.6Q854.6 875.4 852.9 871.2Q856.9 869.1 861.7 865.1Q851.9 866.6 842.4 867.3Z" fill="#0a0a0a"/>
<path d="M658.8 165.8Q666.2 159.8 674.3 154.1Q668.1 154.4 663.7 155.7Q662.1 151.5 658.5 146.4Q659 156.3 658.8 165.8Z" fill="#3a3a9f"/>
<path d="M496.6 376.2Q484.7 375.2 472.4 373.2Q478.1 378.1 483.1 380.7Q480.7 385.7 479.1 393.1Q487.7 384.1 496.6 376.2Z" fill="#3a3a9f"/>
<path d="M771.4 377.8Q780.7 386.9 789.6 397.2Q788.3 389 785.9 383.4Q791.4 380.8 797.9 375.7Q784.5 377.3 771.4 377.8Z" fill="#3a3a9f"/>
<path d="M1000.1 166.4Q1007.4 160.2 1015.4 154.4Q1009.2 154.9 1004.9 156.2Q1003.1 152 999.4 147Q1000.2 156.9 1000.1 166.4Z" fill="#c4221f"/>
<path d="M837.8 377.1Q828.4 376 818.6 374.1Q823.2 378.3 827.1 380.6Q825.3 384.7 824.1 390.8Q830.8 383.5 837.8 377.1Z" fill="#3a3a9f"/>
<path d="M1112.7 379.2Q1119.4 386 1125.7 393.6Q1124.8 387.5 1123.2 383.2Q1127.2 381.2 1132 377.2Q1122.2 378.6 1112.7 379.2Z" fill="#c4221f"/>
<path d="M1429.6 170.7Q1437 164.7 1445.2 159.1Q1439 159.4 1434.6 160.6Q1433 156.4 1429.5 151.2Q1429.9 161.1 1429.6 170.7Z" fill="#c4221f"/>
<path d="M1267.6 380.8Q1258.1 380 1248.4 378.3Q1253 382.4 1257 384.6Q1255.3 388.7 1254.2 394.9Q1260.8 387.4 1267.6 380.8Z" fill="#3a3a9f"/>
<path d="M1542.4 382.5Q1549.2 389.1 1555.7 396.6Q1554.7 390.4 1553 386.3Q1557 384.1 1561.7 380Q1551.9 381.7 1542.4 382.5Z" fill="#3a3a9f"/>
<path d="M1770 171.7Q1777.4 165.7 1785.6 160.2Q1779.4 160.4 1775 161.6Q1773.4 157.4 1769.9 152.3Q1770.3 162.2 1770 171.7Z" fill="#3a3a9f"/>
<path d="M1608 381.9Q1598.6 380.9 1588.8 379.1Q1593.4 383.3 1597.4 385.5Q1595.6 389.6 1594.4 395.8Q1601.1 388.4 1608 381.9Z" fill="#3a3a9f"/>
<path d="M1882.6 383.7Q1889.3 390.5 1895.7 398.1Q1894.8 391.9 1893.1 387.7Q1897.1 385.7 1901.9 381.6Q1892.1 383.1 1882.6 383.7Z" fill="#3a3a9f"/>
<text font-size="100" font-weight="bold" fill="#0a0a0a" transform="matrix(0.5302 0 0 0.5625 866.50 569.50)" stroke="#0a0a0a">E</text>
<text x="1087" y="595" font-size="27.2" font-weight="bold" text-anchor="middle" fill="#0a0a0a" stroke="#0a0a0a">average effect</text>
<text x="1406.6" y="594.6" font-size="27.1" font-weight="bold" text-anchor="middle" fill="#0a0a0a" stroke="#0a0a0a">progressive effect</text>
<text x="1017.3" y="622.2" font-size="24.2" text-anchor="middle" fill="#0a0a0a" stroke="#0a0a0a">commonalities</text>
<text x="1176.6" y="622.2" font-size="24.2" text-anchor="middle" fill="#0a0a0a" stroke="#0a0a0a">differeces</text>
<text x="1332.1" y="621.4" font-size="24.2" text-anchor="middle" fill="#0a0a0a" stroke="#0a0a0a">commonalities</text>
<text x="1491.6" y="621.4" font-size="24.2" text-anchor="middle" fill="#0a0a0a" stroke="#0a0a0a">differeces</text>
<text x="912.4" y="751" font-size="27" font-weight="bold" text-anchor="middle" fill="#0a0a0a" transform="rotate(-90 912.4 751)" textLength="261.5" lengthAdjust="spacingAndGlyphs" stroke="#0a0a0a">posterior probability</text>
<rect x="971.4" y="806.9" width="26.2" height="51.4" fill="#2170b5" stroke="#0a0a0a" stroke-width="2.1"/>
<rect x="1004.4" y="691.1" width="26.4" height="167.2" fill="#2170b5" stroke="#0a0a0a" stroke-width="2.1"/>
<rect x="951.5" y="640.6" width="132" height="217.4" fill="none" stroke="#0a0a0a" stroke-width="2.9"/>
<path d="M984.2 640.3v4.5M984.2 858.3v-4.5M1017.4 640.3v4.5M1017.4 858.3v-4.5M1050.6 640.3v4.5M1050.6 858.3v-4.5M951 749.3h4.5M1083.8 749.3h-4.5" stroke="#0a0a0a" stroke-width="1.6" fill="none"/>
<text x="1020" y="677.2" font-size="24" font-weight="bold" text-anchor="middle" fill="#1c1c1c" textLength="43.8" lengthAdjust="spacingAndGlyphs" stroke="#1c1c1c">77%</text>
<text x="976.7" y="884" font-size="23.5" font-weight="bold" text-anchor="middle" fill="#1c1c1c" textLength="12.2" lengthAdjust="spacingAndGlyphs" stroke="#1c1c1c">1</text>
<text x="1016.9" y="884" font-size="23.5" font-weight="bold" text-anchor="middle" fill="#1c1c1c" textLength="12.2" lengthAdjust="spacingAndGlyphs" stroke="#1c1c1c">2</text>
<text x="1055.5" y="884" font-size="23.5" font-weight="bold" text-anchor="middle" fill="#1c1c1c" textLength="12.2" lengthAdjust="spacingAndGlyphs" stroke="#1c1c1c">3</text>
<text x="1014.3" y="911.2" font-size="27" font-weight="bold" text-anchor="middle" fill="#0a0a0a" stroke="#0a0a0a">model</text>
<rect x="1127.9" y="837.7" width="26.2" height="20.6" fill="#2170b5" stroke="#0a0a0a" stroke-width="2.1"/>
<rect x="1160.9" y="707.6" width="26.2" height="150.7" fill="#2170b5" stroke="#0a0a0a" stroke-width="2.1"/>
<rect x="1193.9" y="811.2" width="26.2" height="47.1" fill="#2170b5" stroke="#0a0a0a" stroke-width="2.1"/>
<rect x="1108.3" y="640.6" width="131.9" height="217.4" fill="none" stroke="#0a0a0a" stroke-width="2.9"/>
<path d="M1141 640.3v4.5M1141 858.3v-4.5M1174.2 640.3v4.5M1174.2 858.3v-4.5M1207.3 640.3v4.5M1207.3 858.3v-4.5M1107.8 749.3h4.5M1240.5 749.3h-4.5" stroke="#0a0a0a" stroke-width="1.6" fill="none"/>
<text x="1177.5" y="695.5" font-size="24" font-weight="bold" text-anchor="middle" fill="#1c1c1c" textLength="43.8" lengthAdjust="spacingAndGlyphs" stroke="#1c1c1c">69%</text>
<text x="1136.2" y="884" font-size="23.5" font-weight="bold" text-anchor="middle" fill="#1c1c1c" textLength="12.2" lengthAdjust="spacingAndGlyphs" stroke="#1c1c1c">1</text>
<text x="1173.3" y="884" font-size="23.5" font-weight="bold" text-anchor="middle" fill="#1c1c1c" textLength="12.2" lengthAdjust="spacingAndGlyphs" stroke="#1c1c1c">2</text>
<text x="1212.3" y="884" font-size="23.5" font-weight="bold" text-anchor="middle" fill="#1c1c1c" textLength="12.2" lengthAdjust="spacingAndGlyphs" stroke="#1c1c1c">3</text>
<text x="1173.2" y="912.2" font-size="27" font-weight="bold" text-anchor="middle" fill="#0a0a0a" stroke="#0a0a0a">model</text>
<rect x="1285.2" y="808.2" width="24.9" height="50.1" fill="#2170b5" stroke="#0a0a0a" stroke-width="2.1"/>
<rect x="1317.7" y="745.1" width="25.4" height="113.2" fill="#2170b5" stroke="#0a0a0a" stroke-width="2.1"/>
<rect x="1350.6" y="803.2" width="25.2" height="55.1" fill="#2170b5" stroke="#0a0a0a" stroke-width="2.1"/>
<rect x="1265.5" y="640.6" width="129.6" height="217.4" fill="none" stroke="#0a0a0a" stroke-width="2.9"/>
<path d="M1297.6 640.3v4.5M1297.6 858.3v-4.5M1330.2 640.3v4.5M1330.2 858.3v-4.5M1362.8 640.3v4.5M1362.8 858.3v-4.5M1265 749.3h4.5M1395.4 749.3h-4.5" stroke="#0a0a0a" stroke-width="1.6" fill="none"/>
<text x="1336.6" y="731.5" font-size="24" font-weight="bold" text-anchor="middle" fill="#1c1c1c" textLength="43.8" lengthAdjust="spacingAndGlyphs" stroke="#1c1c1c">52%</text>
<text x="1291.3" y="884" font-size="23.5" font-weight="bold" text-anchor="middle" fill="#1c1c1c" textLength="12.2" lengthAdjust="spacingAndGlyphs" stroke="#1c1c1c">1</text>
<text x="1327.8" y="884" font-size="23.5" font-weight="bold" text-anchor="middle" fill="#1c1c1c" textLength="12.2" lengthAdjust="spacingAndGlyphs" stroke="#1c1c1c">2</text>
<text x="1367.2" y="884" font-size="23.5" font-weight="bold" text-anchor="middle" fill="#1c1c1c" textLength="12.2" lengthAdjust="spacingAndGlyphs" stroke="#1c1c1c">3</text>
<text x="1328.7" y="910.6" font-size="27" font-weight="bold" text-anchor="middle" fill="#0a0a0a" stroke="#0a0a0a">model</text>
<rect x="1438.5" y="836.2" width="25.1" height="22.1" fill="#2170b5" stroke="#0a0a0a" stroke-width="2.1"/>
<rect x="1470.9" y="743.3" width="25.2" height="115" fill="#2170b5" stroke="#0a0a0a" stroke-width="2.1"/>
<rect x="1503.3" y="776.9" width="25.7" height="81.4" fill="#2170b5" stroke="#0a0a0a" stroke-width="2.1"/>
<rect x="1418.8" y="640.6" width="129.7" height="217.4" fill="none" stroke="#0a0a0a" stroke-width="2.9"/>
<path d="M1450.9 640.3v4.5M1450.9 858.3v-4.5M1483.5 640.3v4.5M1483.5 858.3v-4.5M1516.2 640.3v4.5M1516.2 858.3v-4.5M1418.3 749.3h4.5M1548.8 749.3h-4.5" stroke="#0a0a0a" stroke-width="1.6" fill="none"/>
<text x="1486.3" y="731.5" font-size="24" font-weight="bold" text-anchor="middle" fill="#1c1c1c" textLength="43.8" lengthAdjust="spacingAndGlyphs" stroke="#1c1c1c">53%</text>
<text x="1447.6" y="884" font-size="23.5" font-weight="bold" text-anchor="middle" fill="#1c1c1c" textLength="12.2" lengthAdjust="spacingAndGlyphs" stroke="#1c1c1c">1</text>
<text x="1484" y="884" font-size="23.5" font-weight="bold" text-anchor="middle" fill="#1c1c1c" textLength="12.2" lengthAdjust="spacingAndGlyphs" stroke="#1c1c1c">2</text>
<text x="1520" y="884" font-size="23.5" font-weight="bold" text-anchor="middle" fill="#1c1c1c" textLength="12.2" lengthAdjust="spacingAndGlyphs" stroke="#1c1c1c">3</text>
<text x="1488" y="912.2" font-size="27" font-weight="bold" text-anchor="middle" fill="#0a0a0a" stroke="#0a0a0a">model</text>
<text x="933.8" y="645.6" font-size="23.5" font-weight="bold" text-anchor="middle" fill="#1c1c1c" textLength="12.2" lengthAdjust="spacingAndGlyphs" stroke="#1c1c1c">1</text>
<text x="931" y="755.6" font-size="23.5" font-weight="bold" text-anchor="middle" fill="#1c1c1c" textLength="18.3" lengthAdjust="spacingAndGlyphs" stroke="#1c1c1c">.5</text>
<text x="932.4" y="857.3" font-size="23.5" font-weight="bold" text-anchor="middle" fill="#1c1c1c" textLength="12.2" lengthAdjust="spacingAndGlyphs" stroke="#1c1c1c">0</text>
<text font-size="100" font-weight="bold" fill="#0a0a0a" transform="matrix(0.5315 0 0 0.5698 1573.29 568.80)" stroke="#0a0a0a">F</text>
<path d="M1663.5 582.4V871.1M1662 869.5H2007" stroke="#0a0a0a" stroke-width="3.2" fill="none"/>
<path d="M1663 615.5h6M1663 678.8h6M1663 742.2h6M1663 805.5h6M1706.2 869v-6.8M1790.9 869v-6.8M1875.6 869v-6.8M1960.4 869v-6.8" stroke="#0a0a0a" stroke-width="2.3" fill="none"/>
<text x="1639" y="619.1" font-size="23.6" font-weight="bold" text-anchor="middle" fill="#1c1c1c" textLength="30.6" lengthAdjust="spacingAndGlyphs" stroke="#1c1c1c">0.6</text>
<text x="1639" y="682.4" font-size="23.6" font-weight="bold" text-anchor="middle" fill="#1c1c1c" textLength="30.6" lengthAdjust="spacingAndGlyphs" stroke="#1c1c1c">0.4</text>
<text x="1639" y="746.9" font-size="23.6" font-weight="bold" text-anchor="middle" fill="#1c1c1c" textLength="30.6" lengthAdjust="spacingAndGlyphs" stroke="#1c1c1c">0.2</text>
<text x="1639" y="809.7" font-size="23.6" font-weight="bold" text-anchor="middle" fill="#1c1c1c" textLength="12.2" lengthAdjust="spacingAndGlyphs" stroke="#1c1c1c">0</text>
<text x="1639.8" y="873" font-size="23.6" font-weight="bold" text-anchor="middle" fill="#1c1c1c" textLength="37.9" lengthAdjust="spacingAndGlyphs" stroke="#1c1c1c">-0.2</text>
<text x="1705.6" y="899" font-size="23.6" font-weight="bold" text-anchor="middle" fill="#1c1c1c" textLength="12.2" lengthAdjust="spacingAndGlyphs" stroke="#1c1c1c">1</text>
<text x="1790.7" y="899" font-size="23.6" font-weight="bold" text-anchor="middle" fill="#1c1c1c" textLength="12.2" lengthAdjust="spacingAndGlyphs" stroke="#1c1c1c">2</text>
<text x="1875.5" y="899" font-size="23.6" font-weight="bold" text-anchor="middle" fill="#1c1c1c" textLength="12.2" lengthAdjust="spacingAndGlyphs" stroke="#1c1c1c">3</text>
<text x="1960.3" y="899" font-size="23.6" font-weight="bold" text-anchor="middle" fill="#1c1c1c" textLength="12.2" lengthAdjust="spacingAndGlyphs" stroke="#1c1c1c">4</text>
<text x="1834" y="930.8" font-size="27" font-weight="bold" text-anchor="middle" fill="#0a0a0a" stroke="#0a0a0a">resting-state runs</text>
<text x="1611" y="748.5" font-size="27" font-weight="bold" text-anchor="middle" fill="#0a0a0a" transform="rotate(-90 1611 748.5)" textLength="313" lengthAdjust="spacingAndGlyphs" stroke="#0a0a0a">dmPFC self-connectivity</text>
<polyline points="1706,826.5 1790.7,758 1875.5,690 1960.4,621.8" fill="none" stroke="#f3a52a" stroke-width="5.5" stroke-linecap="round"/>
<circle cx="1706" cy="826.5" r="4.3" fill="#f3a52a"/>
<circle cx="1790.7" cy="758" r="4.3" fill="#f3a52a"/>
<circle cx="1875.5" cy="690" r="4.3" fill="#f3a52a"/>
<circle cx="1960.4" cy="621.8" r="4.3" fill="#f3a52a"/>
<polyline points="1706,836.5 1790.7,809 1875.5,782.3 1960.4,755.4" fill="none" stroke="#3c4bb0" stroke-width="5.5" stroke-linecap="round"/>
<circle cx="1706" cy="836.5" r="4.3" fill="#3c4bb0"/>
<circle cx="1790.7" cy="809" r="4.3" fill="#3c4bb0"/>
<circle cx="1875.5" cy="782.3" r="4.3" fill="#3c4bb0"/>
<circle cx="1960.4" cy="755.4" r="4.3" fill="#3c4bb0"/>
<circle cx="1706.7" cy="611.4" r="5.5" fill="#3c4bb0"/>
<circle cx="1706.7" cy="635.3" r="5.5" fill="#f3a52a"/>
<text x="1727" y="616" font-size="18" font-weight="bold" fill="#1c1c1c" stroke="#1c1c1c">experimental group</text>
<text x="1727" y="639.8" font-size="18" font-weight="bold" fill="#1c1c1c" stroke="#1c1c1c">control group</text>
<text x="1701" y="699.8" font-size="21.8" font-weight="bold" fill="#1c1c1c" textLength="146" lengthAdjust="spacingAndGlyphs" stroke="#1c1c1c">y = 0.22*x - 0.28</text>
<text x="1858" y="742.2" font-size="21.8" font-weight="bold" fill="#1c1c1c" textLength="146" lengthAdjust="spacingAndGlyphs" stroke="#1c1c1c">y = 0.09*x - 0.18</text>
</svg>
</body></html>
